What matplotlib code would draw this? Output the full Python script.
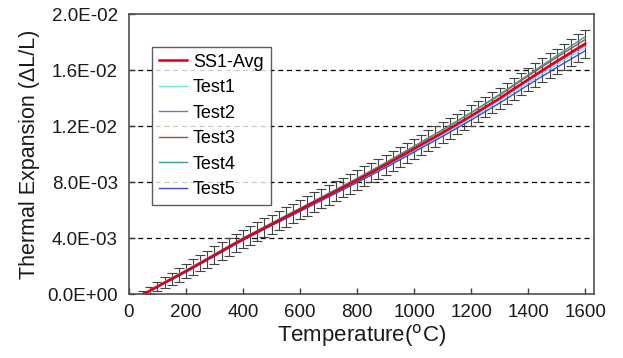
import matplotlib
matplotlib.use('Agg')
import matplotlib.pyplot as plt
import matplotlib.ticker as ticker

plt.rcParams['font.family'] = ['Liberation Sans', 'DejaVu Sans']

# ==========================================
# Data
# ==========================================
TEMP = [50, 75, 100, 125, 150, 175, 200, 225, 250, 275, 300, 325, 350, 375,
        400, 425, 450, 475, 500, 525, 550, 575, 600, 625, 650, 675, 700, 725,
        750, 775, 800, 825, 850, 875, 900, 925, 950, 975, 1000, 1025, 1050,
        1075, 1100, 1125, 1150, 1175, 1200, 1225, 1250, 1275, 1300, 1325,
        1350, 1375, 1400, 1425, 1450, 1475, 1500, 1525, 1550, 1575, 1600]

AVG = [0.00000, 0.00027, 0.00055, 0.00083, 0.00110, 0.00138, 0.00165, 0.00194,
       0.00222, 0.00251, 0.00280, 0.00309, 0.00338, 0.00366, 0.00395, 0.00421,
       0.00447, 0.00474, 0.00500, 0.00526, 0.00553, 0.00579, 0.00605, 0.00631,
       0.00658, 0.00684, 0.00710, 0.00736, 0.00762, 0.00789, 0.00815, 0.00843,
       0.00870, 0.00898, 0.00925, 0.00954, 0.00983, 0.01011, 0.01040, 0.01069,
       0.01098, 0.01126, 0.01155, 0.01185, 0.01215, 0.01245, 0.01275, 0.01306,
       0.01338, 0.01369, 0.01400, 0.01434, 0.01468, 0.01501, 0.01535, 0.01568,
       0.01600, 0.01633, 0.01665, 0.01696, 0.01728, 0.01759, 0.01790]

ERR = [0.00020, 0.00028, 0.00035, 0.00040, 0.00045, 0.00049, 0.00052, 0.00055,
       0.00058, 0.00060, 0.00062, 0.00064, 0.00065, 0.00066, 0.00067, 0.00068,
       0.00068, 0.00068, 0.00069, 0.00069, 0.00069, 0.00069, 0.00070, 0.00070,
       0.00070, 0.00070, 0.00070, 0.00070, 0.00070, 0.00071, 0.00071, 0.00071,
       0.00071, 0.00071, 0.00072, 0.00072, 0.00072, 0.00072, 0.00072, 0.00072,
       0.00073, 0.00073, 0.00073, 0.00073, 0.00073, 0.00074, 0.00074, 0.00074,
       0.00074, 0.00075, 0.00075, 0.00076, 0.00078, 0.00080, 0.00082, 0.00084,
       0.00086, 0.00088, 0.00090, 0.00092, 0.00094, 0.00097, 0.00100]

TEMP_T = [50, 100, 200, 300, 400, 500, 600, 700, 800, 900, 1000, 1100, 1200,
          1300, 1400, 1500, 1600]
TEST1 = [0.00000, 0.00062, 0.00175, 0.00288, 0.00398, 0.00500, 0.00603, 0.00702,
         0.00805, 0.00912, 0.01025, 0.01138, 0.01258, 0.01382, 0.01512, 0.01640, 0.01762]
TEST2 = [0.00000, 0.00053, 0.00162, 0.00276, 0.00390, 0.00497, 0.00600, 0.00705,
         0.00810, 0.00920, 0.01033, 0.01148, 0.01268, 0.01392, 0.01525, 0.01655, 0.01778]
TEST3 = [0.00000, 0.00056, 0.00167, 0.00283, 0.00400, 0.00507, 0.00613, 0.00720,
         0.00828, 0.00940, 0.01058, 0.01175, 0.01297, 0.01423, 0.01560, 0.01692, 0.01820]
TEST4 = [0.00000, 0.00058, 0.00168, 0.00284, 0.00401, 0.00508, 0.00614, 0.00720,
         0.00826, 0.00938, 0.01056, 0.01174, 0.01298, 0.01428, 0.01568, 0.01705, 0.01840]
TEST5 = [0.00000, 0.00050, 0.00158, 0.00272, 0.00386, 0.00490, 0.00592, 0.00695,
         0.00798, 0.00905, 0.01016, 0.01128, 0.01245, 0.01366, 0.01495, 0.01620, 0.01740]

TESTS = [('Test1', TEST1, '#6ee6f0'),
         ('Test2', TEST2, '#a45ac8'),
         ('Test3', TEST3, '#a0503c'),
         ('Test4', TEST4, '#3c9a96'),
         ('Test5', TEST5, '#4646d2')]

fig = plt.figure(figsize=(6.23, 3.58), dpi=100)
ax = fig.add_axes([0.207, 0.178, 0.746, 0.782])

# dashed grid lines
for yv in [0.004, 0.008, 0.012, 0.016]:
    ax.axhline(yv, color='black', linestyle=(0, (4, 3)), linewidth=0.9, zorder=0)

ax.errorbar(TEMP, AVG, yerr=ERR, fmt='none', ecolor='#444444',
            elinewidth=0.8, capsize=3.5, capthick=0.8, zorder=1)

ax.plot(TEMP, AVG, color='#e0000f', linewidth=1.8, label='SS1-Avg', zorder=4)
for name, vals, col in TESTS:
    ax.plot(TEMP_T, vals, color=col, linewidth=1.0, label=name, zorder=3)

ax.set_xlim(0, 1630)
ax.set_ylim(0, 0.02)
ax.set_xticks(range(0, 1601, 200))
ax.set_yticks([0, 0.004, 0.008, 0.012, 0.016, 0.02])
ax.yaxis.set_major_formatter(ticker.FuncFormatter(lambda v, p: f'{v:.1E}'))
ax.tick_params(axis='both', direction='in', length=4, width=1, colors='#404040',
               labelsize=13.5, labelcolor='#1a1a1a', pad=7)
ax.tick_params(axis='y', pad=8)

for sp in ax.spines.values():
    sp.set_color('#505050')
    sp.set_linewidth(1.2)

ax.set_xlabel('Temperature($^{\\mathrm{o}}$C)', fontsize=16, color='#1a1a1a', labelpad=1)
ax.set_ylabel('Thermal Expansion (\u0394L/L)', fontsize=15.5, color='#1a1a1a', labelpad=5)

leg = ax.legend(loc='upper left', bbox_to_anchor=(0.05, 0.885), fontsize=13,
                frameon=True, fancybox=False, edgecolor='#333333',
                handlelength=1.5, handletextpad=0.35, labelspacing=0.47,
                borderpad=0.4, borderaxespad=0)
leg.get_frame().set_linewidth(1.0)

fig.savefig('out.png', dpi=100)
